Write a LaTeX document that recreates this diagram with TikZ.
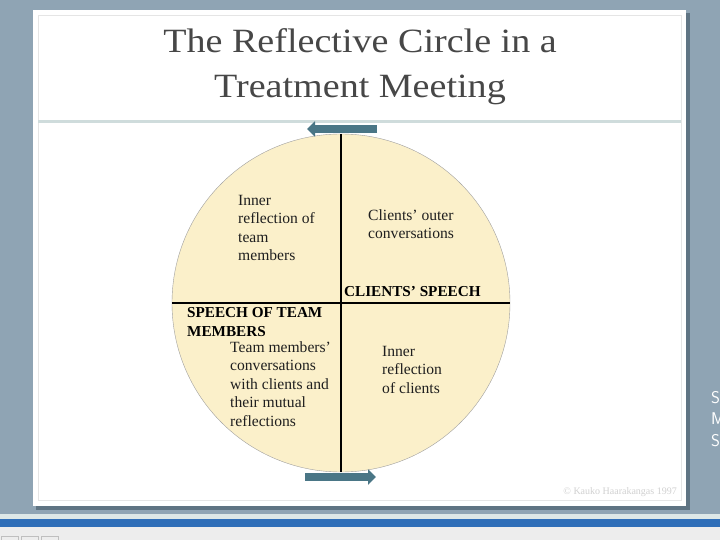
\documentclass[tikz,border=0pt]{standalone}
\usepackage{fontspec}
\setmainfont{Liberation Serif}
\newfontfamily\titlefont[FakeStretch=1.12]{Liberation Serif}
\usetikzlibrary{arrows.meta}
\definecolor{slate}{HTML}{8FA4B4}
\definecolor{slateshadow}{HTML}{5F7483}
\definecolor{cream}{HTML}{FBF0CA}
\definecolor{teal}{HTML}{4A7686}
\definecolor{rule}{HTML}{CFDCDC}
\definecolor{barblue}{HTML}{2F6EB8}
\tikzset{
  body/.style={anchor=north west,align=left,inner sep=0pt,text=black!88,
    font=\fontsize{15.6}{18.5}\selectfont},
  caps/.style={anchor=north west,align=left,inner sep=0pt,
    font=\fontsize{15.2}{18.8}\selectfont\bfseries},
  flow/.style={teal,line width=8pt,-{Triangle[length=8pt,width=15pt]}},
}
\begin{document}
\begin{tikzpicture}[x=1pt,y=-1pt]
  \useasboundingbox (0,0) rectangle (720,540);
  \fill[slate] (0,0) rectangle (720,540);
  % slide
  \fill[slateshadow] (36,13) rectangle (690,510);
  \fill[white] (33,10) rectangle (686,506);
  \draw[gray!20] (38,15) rectangle (681,500);
  \node[font=\titlefont\fontsize{34}{45}\selectfont,text=black!72,align=center] (title) at (360,67)
    {The Reflective Circle in a\\Treatment Meeting};
  \draw[rule,line width=3pt] (38,122) -- (681,122);
  % the circle
  \node[circle,draw=gray!75,fill=cream,minimum size=338pt,inner sep=0pt] (circ) at (341,303) {};
  \draw[line width=1.6pt] (circ.north) -- (circ.south);
  \draw[line width=1.6pt] (circ.west) -- (circ.east);
  \coordinate (tr) at (377,129);  \coordinate (tl) at (307,129);
  \coordinate (bl) at (305,477);  \coordinate (br) at (376,477);
  \draw[flow] (tr) -- (tl);
  \draw[flow] (bl) -- (br);
  % quadrant texts
  \node[body] (innerteam) at (238,195) {Inner\\reflection of\\team\\members};
  \node[body] (outer) at (368,209) {Clients' outer\\conversations};
  \node[caps] (cspeech) at (344,286) {CLIENTS' SPEECH};
  \node[caps] (tspeech) at (187,307) {SPEECH OF TEAM\\MEMBERS};
  \node[body] (teamconv) at (230,341) {Team members'\\conversations\\with clients and\\their mutual\\reflections};
  \node[body] (innerclients) at (382,346) {Inner\\reflection\\of clients};
  \node[anchor=east,inner sep=0pt,text=black!18,font=\fontsize{10}{12}\selectfont] (copy) at (677,492)
    {\textcopyright{} Kauko Haarakangas 1997};
  % edge of the window
  \node[anchor=north west,inner sep=0pt,text=white,align=left,
    font=\sffamily\fontsize{17}{21.5}\selectfont] (cut) at (711,391) {S\\M\\S};
  \fill[rule!70!white] (0,514) rectangle (720,519);
  \fill[barblue] (0,519) rectangle (720,527);
  \fill[black!7] (0,527) rectangle (720,540);
  \foreach \x in {0,20,40}
    \draw[black!25] (\x+1,536) rectangle (\x+18,541);
\end{tikzpicture}
\end{document}
